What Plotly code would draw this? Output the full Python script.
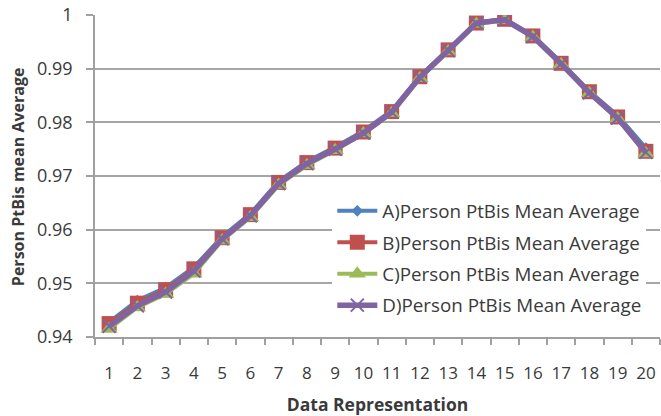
import plotly.graph_objects as go

# Data representation index (category axis)
categories = [str(i) for i in range(1, 21)]

# Person PtBis mean average for the four variants
series_a = [0.9428, 0.9468, 0.9492, 0.9530, 0.9587, 0.9630, 0.9690, 0.9727, 0.9754, 0.9784,
            0.9822, 0.9886, 0.9936, 0.9986, 0.9993, 0.9962, 0.9912, 0.9858, 0.9813, 0.9752]
series_b = [0.9425, 0.9463, 0.9488, 0.9527, 0.9585, 0.9628, 0.9688, 0.9725, 0.9752, 0.9782,
            0.9820, 0.9885, 0.9935, 0.9985, 0.9992, 0.9961, 0.9910, 0.9857, 0.9810, 0.9746]
series_c = [0.9415, 0.9455, 0.9480, 0.9518, 0.9580, 0.9623, 0.9683, 0.9720, 0.9748, 0.9779,
            0.9817, 0.9882, 0.9932, 0.9983, 0.9990, 0.9959, 0.9908, 0.9854, 0.9807, 0.9742]
series_d = [0.9420, 0.9458, 0.9484, 0.9523, 0.9583, 0.9626, 0.9686, 0.9723, 0.9750, 0.9780,
            0.9819, 0.9884, 0.9934, 0.9985, 0.9991, 0.9960, 0.9909, 0.9855, 0.9808, 0.9744]

names = ["A)Person PtBis Mean Average", "B)Person PtBis Mean Average",
         "C)Person PtBis Mean Average", "D)Person PtBis Mean Average"]

y_ticks = [0.94, 0.95, 0.96, 0.97, 0.98, 0.99, 1.0]
y_tick_text = ["0.94", "0.95", "0.96", "0.97", "0.98", "0.99", "1"]

FONT = "Open Sans"
TEXT = "#3A3A3A"
AXIS = "#A0A0A0"
styles = [
    dict(color="#4F81BD", symbol="diamond", size=9, width=4),
    dict(color="#C0504D", symbol="square", size=15, width=4),
    dict(color="#9BBB59", symbol="triangle-up", size=15, width=4),
    dict(color="#8064A2", symbol="x-thin", size=13, width=5.5),
]

fig = go.Figure()
for i, (name, vals, st) in enumerate(zip(names, [series_a, series_b, series_c, series_d], styles)):
    marker = dict(symbol=st["symbol"], size=st["size"], color=st["color"])
    if st["symbol"] == "x-thin":
        marker["line"] = dict(color=st["color"], width=2)
    else:
        marker["line"] = dict(width=0)
    fig.add_trace(go.Scatter(
        x=categories, y=vals, name=name, mode="lines+markers",
        line=dict(color=st["color"], width=st["width"]),
        marker=marker, legendgroup=f"g{i}",
    ))

# Vertical axis title placed as a rotated annotation beside the tick labels
fig.add_annotation(
    text="<b>Person PtBis mean Average</b>", textangle=-90,
    xref="paper", yref="paper", x=-0.136, y=0.497,
    xanchor="center", yanchor="middle", showarrow=False,
    font=dict(family=FONT, size=16, color=TEXT),
)

fig.update_layout(
    width=661, height=416,
    margin=dict(l=95, r=1, t=15, b=79, autoexpand=False),
    paper_bgcolor="white", plot_bgcolor="white",
    font=dict(family=FONT, size=16, color=TEXT),
    showlegend=True,
    legend=dict(
        x=0.42, y=0.45, xanchor="left", yanchor="top",
        bgcolor="white", font=dict(family=FONT, size=18.8, color=TEXT),
        traceorder="grouped", tracegroupgap=4, itemwidth=40,
    ),
    xaxis=dict(
        type="category", range=[-0.5, len(categories) - 0.5],
        tickson="boundaries", ticks="outside", ticklen=6,
        tickcolor=AXIS, tickwidth=1.5, tickangle=0, automargin=False,
        showline=True, linecolor=AXIS, linewidth=1.5,
        showgrid=False, tickfont=dict(size=17), ticklabelstandoff=20,
        title=dict(text="<b>Data Representation</b>", font=dict(size=17.5, color=TEXT), standoff=18),
    ),
    yaxis=dict(
        range=[0.94, 1.0], tickvals=y_ticks, ticktext=y_tick_text,
        ticks="outside", ticklen=7, tickcolor=AXIS, tickwidth=1.5, automargin=False,
        showline=True, linecolor=AXIS, linewidth=1.5,
        showgrid=True, gridcolor="#A6A6A6", gridwidth=1.5,
        tickfont=dict(size=18), zeroline=False, ticklabelstandoff=10,
    ),
)

fig.write_html("out.html")
